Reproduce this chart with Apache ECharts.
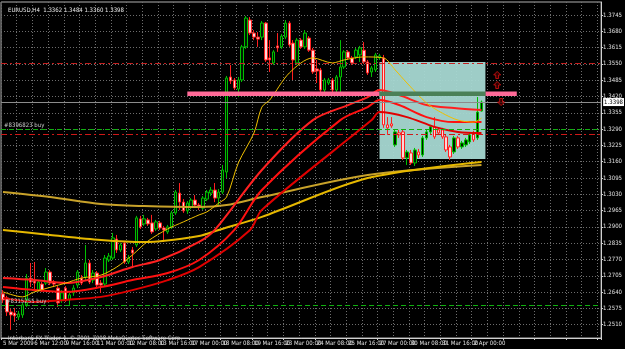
<!DOCTYPE html>
<html>
<head>
<meta charset="utf-8">
<script src="https://cdn.jsdelivr.net/npm/echarts@6/dist/echarts.min.js"></script>
<style>
  html, body { margin: 0; padding: 0; background: #000; }
  #chart { width: 625px; height: 349px; }
</style>
</head>
<body>
<div id="chart"></div>
<script>
// EURUSD H4, 5 Mar - 2 Apr 2009 (MT4 screenshot)
const timeLabels = [
  '5 Mar 2009', '6 Mar 12:00', '9 Mar 16:00', '11 Mar 00:00', '12 Mar 08:00',
  '13 Mar 16:00', '17 Mar 00:00', '18 Mar 08:00', '19 Mar 16:00', '23 Mar 00:00',
  '24 Mar 08:00', '25 Mar 16:00', '27 Mar 00:00', '30 Mar 08:00', '31 Mar 16:00',
  '2 Apr 00:00'
];
const barSlots = 153; // visible bar slots incl. right shift

const priceLabels = [
  1.2510, 1.2575, 1.2640, 1.2705, 1.2770, 1.2835, 1.2900, 1.2965, 1.3030, 1.3095,
  1.3160, 1.3225, 1.3290, 1.3355, 1.3420, 1.3485, 1.3550, 1.3615, 1.3680, 1.3745
];

// [open, close, low, high]
const candles = [
  [1.2633, 1.2609, 1.2597, 1.2648], [1.2617, 1.2561, 1.2545, 1.2625], [1.2561, 1.2549, 1.2489, 1.2573],
  [1.2557, 1.2545, 1.2521, 1.2577], [1.2541, 1.2553, 1.2529, 1.2565], [1.2549, 1.2589, 1.2537, 1.2597],
  [1.2589, 1.2696, 1.2581, 1.2712], [1.2696, 1.2680, 1.2660, 1.2756], [1.2684, 1.2676, 1.2648, 1.2760],
  [1.2648, 1.2680, 1.2641, 1.2688], [1.2672, 1.2648, 1.2641, 1.2680], [1.2676, 1.2720, 1.2668, 1.2736],
  [1.2720, 1.2676, 1.2668, 1.2728], [1.2680, 1.2672, 1.2660, 1.2688], [1.2656, 1.2597, 1.2581, 1.2664],
  [1.2609, 1.2637, 1.2597, 1.2648], [1.2656, 1.2609, 1.2601, 1.2664], [1.2609, 1.2629, 1.2589, 1.2637],
  [1.2637, 1.2656, 1.2625, 1.2668], [1.2668, 1.2720, 1.2656, 1.2728], [1.2696, 1.2676, 1.2668, 1.2708],
  [1.2700, 1.2756, 1.2688, 1.2828], [1.2756, 1.2680, 1.2672, 1.2768], [1.2688, 1.2716, 1.2676, 1.2728],
  [1.2716, 1.2668, 1.2660, 1.2724], [1.2676, 1.2668, 1.2637, 1.2688], [1.2672, 1.2776, 1.2664, 1.2788],
  [1.2768, 1.2784, 1.2760, 1.2796], [1.2776, 1.2856, 1.2768, 1.2876], [1.2852, 1.2808, 1.2796, 1.2868],
  [1.2808, 1.2828, 1.2800, 1.2836], [1.2836, 1.2760, 1.2752, 1.2844], [1.2760, 1.2776, 1.2752, 1.2788],
  [1.2808, 1.2796, 1.2736, 1.2820], [1.2828, 1.2936, 1.2820, 1.2944], [1.2932, 1.2900, 1.2892, 1.2944],
  [1.2912, 1.2932, 1.2904, 1.2948], [1.2928, 1.2912, 1.2904, 1.2936], [1.2916, 1.2880, 1.2872, 1.2948],
  [1.2892, 1.2920, 1.2884, 1.2928], [1.2916, 1.2896, 1.2888, 1.2924], [1.2896, 1.2888, 1.2840, 1.2904],
  [1.2880, 1.2900, 1.2872, 1.2908], [1.2900, 1.2956, 1.2892, 1.2964], [1.2956, 1.3039, 1.2948, 1.3047],
  [1.3035, 1.2999, 1.2968, 1.3075], [1.2999, 1.2964, 1.2956, 1.3011], [1.2964, 1.2995, 1.2952, 1.3003],
  [1.2979, 1.3007, 1.2971, 1.3015], [1.3007, 1.2987, 1.2979, 1.3027], [1.2987, 1.2979, 1.2968, 1.2995],
  [1.2975, 1.3015, 1.2968, 1.3023], [1.3011, 1.3039, 1.3003, 1.3047], [1.3035, 1.3047, 1.3023, 1.3059],
  [1.3047, 1.3015, 1.2999, 1.3075], [1.3015, 1.3039, 1.2987, 1.3051], [1.3039, 1.3127, 1.3031, 1.3147],
  [1.3119, 1.3494, 1.3095, 1.3502], [1.3498, 1.3482, 1.3470, 1.3546], [1.3486, 1.3454, 1.3446, 1.3494],
  [1.3450, 1.3486, 1.3418, 1.3498], [1.3486, 1.3618, 1.3478, 1.3626], [1.3618, 1.3733, 1.3610, 1.3741],
  [1.3725, 1.3673, 1.3665, 1.3737], [1.3673, 1.3657, 1.3645, 1.3685], [1.3657, 1.3649, 1.3618, 1.3677],
  [1.3657, 1.3713, 1.3645, 1.3721], [1.3713, 1.3566, 1.3558, 1.3717], [1.3574, 1.3566, 1.3518, 1.3645],
  [1.3554, 1.3598, 1.3546, 1.3605], [1.3622, 1.3614, 1.3598, 1.3673], [1.3618, 1.3661, 1.3610, 1.3669],
  [1.3657, 1.3713, 1.3649, 1.3725], [1.3713, 1.3626, 1.3618, 1.3721], [1.3633, 1.3566, 1.3486, 1.3645],
  [1.3554, 1.3645, 1.3546, 1.3653], [1.3645, 1.3618, 1.3610, 1.3653], [1.3618, 1.3673, 1.3610, 1.3685],
  [1.3653, 1.3605, 1.3598, 1.3661], [1.3605, 1.3518, 1.3510, 1.3614], [1.3530, 1.3522, 1.3474, 1.3566],
  [1.3526, 1.3446, 1.3438, 1.3534], [1.3446, 1.3486, 1.3438, 1.3494], [1.3474, 1.3486, 1.3466, 1.3494],
  [1.3486, 1.3446, 1.3438, 1.3494], [1.3446, 1.3498, 1.3434, 1.3506], [1.3498, 1.3538, 1.3434, 1.3645],
  [1.3538, 1.3598, 1.3530, 1.3605], [1.3598, 1.3574, 1.3566, 1.3605], [1.3574, 1.3554, 1.3546, 1.3582],
  [1.3578, 1.3605, 1.3570, 1.3614], [1.3586, 1.3614, 1.3558, 1.3622], [1.3605, 1.3558, 1.3550, 1.3637],
  [1.3558, 1.3514, 1.3506, 1.3566], [1.3518, 1.3534, 1.3498, 1.3542], [1.3526, 1.3586, 1.3518, 1.3594],
  [1.3574, 1.3582, 1.3566, 1.3590], [1.3574, 1.3307, 1.3295, 1.3586], [1.3307, 1.3295, 1.3267, 1.3338],
  [1.3311, 1.3303, 1.3295, 1.3338], [1.3227, 1.3279, 1.3219, 1.3287], [1.3275, 1.3267, 1.3255, 1.3287],
  [1.3279, 1.3175, 1.3167, 1.3287], [1.3175, 1.3199, 1.3147, 1.3207], [1.3195, 1.3155, 1.3147, 1.3207],
  [1.3155, 1.3207, 1.3143, 1.3215], [1.3199, 1.3187, 1.3175, 1.3211], [1.3187, 1.3255, 1.3179, 1.3263],
  [1.3255, 1.3279, 1.3247, 1.3287], [1.3279, 1.3299, 1.3271, 1.3307], [1.3299, 1.3259, 1.3251, 1.3338],
  [1.3287, 1.3275, 1.3267, 1.3295], [1.3287, 1.3259, 1.3251, 1.3295], [1.3259, 1.3207, 1.3199, 1.3267],
  [1.3219, 1.3179, 1.3167, 1.3227], [1.3199, 1.3255, 1.3191, 1.3263], [1.3255, 1.3219, 1.3211, 1.3263],
  [1.3219, 1.3235, 1.3211, 1.3243], [1.3227, 1.3247, 1.3219, 1.3255], [1.3239, 1.3267, 1.3231, 1.3275],
  [1.3275, 1.3247, 1.3239, 1.3283], [1.3255, 1.3358, 1.3247, 1.3418], [1.3362, 1.3398, 1.3360, 1.3404]
];

// moving averages: [bar, price]
const maFast = [
  [0, 1.2641], [5, 1.2621], [8, 1.2641], [16, 1.2676], [20, 1.2696], [25, 1.2708], [29, 1.2740],
  [33, 1.2788], [37, 1.2844], [42, 1.2892], [46, 1.2920], [50, 1.2948], [52, 1.2960], [55, 1.2995],
  [57, 1.3019], [60, 1.3155], [64, 1.3275], [66, 1.3378], [68, 1.3406], [73, 1.3514], [79, 1.3574],
  [84, 1.3554], [87, 1.3566], [92, 1.3578], [97, 1.3574], [100, 1.3526], [103, 1.3474], [108, 1.3394],
  [112, 1.3354], [116, 1.3326], [120, 1.3318], [122, 1.3334]
];
const maRedA = [
  [0, 1.2696], [8, 1.2688], [16, 1.2676], [25, 1.2700], [33, 1.2740], [40, 1.2768], [50, 1.2840],
  [54, 1.2888], [66, 1.3127], [79, 1.3326], [88, 1.3386], [93, 1.3418], [96, 1.3446], [101, 1.3426],
  [108, 1.3386], [115, 1.3374], [122, 1.3366]
];
const maRedB = [
  [0, 1.2660], [8, 1.2648], [16, 1.2641], [25, 1.2660], [33, 1.2688], [42, 1.2716], [50, 1.2768],
  [59, 1.2888], [66, 1.3047], [86, 1.3326], [93, 1.3378], [96, 1.3406], [101, 1.3386], [108, 1.3338],
  [115, 1.3318], [122, 1.3318]
];
const maRedC = [
  [0, 1.2617], [8, 1.2601], [16, 1.2609], [25, 1.2621], [33, 1.2648], [42, 1.2688], [50, 1.2740],
  [63, 1.2888], [66, 1.2968], [94, 1.3326], [96, 1.3358], [103, 1.3338], [110, 1.3299], [116, 1.3279],
  [122, 1.3275]
];
const maSlowA = [
  [0, 1.3039], [12, 1.3019], [25, 1.2991], [36, 1.2983], [50, 1.2979], [57, 1.2987], [66, 1.3019],
  [93, 1.3107], [122, 1.3147]
];
const maSlowB = [
  [0, 1.2888], [12, 1.2868], [25, 1.2848], [36, 1.2840], [50, 1.2864], [55, 1.2888], [66, 1.2940],
  [93, 1.3095], [122, 1.3159]
];

// chart objects
const bidPrice = 1.3398;
const tpLine = 1.3553;
const orderBuy1 = 1.3288;
const orderStop1 = 1.3270;
const orderBuy2 = 1.2588;
const levelPrice = 1.3431;
const levelBars = [47, 131];
const boxBars = [96, 123];
const boxPrices = [1.3558, 1.3171];
const upArrows = [[126, 1.3506], [126, 1.3466]];
const downArrows = [[127, 1.3398]];

const font = "'Liberation Sans Narrow', 'DejaVu Sans Condensed', 'Liberation Sans', sans-serif";
const categories = [];
for (let i = 0; i < barSlots; i++) categories.push(String(i));

const chart = echarts.init(document.getElementById('chart'), null, { renderer: 'canvas' });

const maLine = (data, color, width, z) => ({
  type: 'line', data, symbol: 'none', connectNulls: true, smooth: 0.3, z,
  lineStyle: { color, width }, silent: true, animation: false
});

const option = {
  backgroundColor: '#000000',
  animation: false,
  title: [
    {
      text: 'EURUSD,H4  1.3362 1.3484 1.3360 1.3398', left: 3, top: 2,
      textStyle: { color: '#e8e8e8', fontSize: 6, fontWeight: 'normal', fontFamily: font }
    },
    {
      text: 'Interbank FX Trader 4, \u00a9 2001-2008 MetaQuotes Software Corp.', left: 3, top: 330,
      textStyle: { color: '#d0d0d0', fontSize: 6, fontWeight: 'normal', fontFamily: font }
    }
  ],
  grid: { left: 1, right: 18, top: 2, bottom: 11, show: true, borderColor: '#b0b0b0', borderWidth: 1 },
  xAxis: {
    type: 'category', data: categories, boundaryGap: true,
    axisLine: { lineStyle: { color: '#d0d0d0' } },
    axisTick: { show: true, interval: 7, length: 2, lineStyle: { color: '#d0d0d0' } },
    axisLabel: {
      interval: 7, align: 'left', margin: 2, color: '#e0e0e0', fontSize: 6, fontFamily: font,
      formatter: (v, idx) => timeLabels[idx / 8] || ''
    },
    splitLine: { show: true, interval: 3, lineStyle: { color: '#6f6f6f', type: [1, 2], width: 1 } }
  },
  yAxis: {
    type: 'value', position: 'right', min: 1.2457, max: 1.3797, scale: true,
    axisLine: { show: true, lineStyle: { color: '#d0d0d0' } },
    axisTick: { show: true, length: 2, customValues: priceLabels, lineStyle: { color: '#d0d0d0' } },
    axisLabel: {
      customValues: priceLabels, margin: 2, color: '#e0e0e0', fontSize: 6, fontFamily: font,
      formatter: v => v.toFixed(4)
    },
    splitLine: { show: true, lineStyle: { color: '#6f6f6f', type: [1, 2], width: 1 } }
  },
  series: [
    {
      name: 'EURUSD', type: 'candlestick', data: candles, barWidth: 3, z: 3,
      itemStyle: {
        color: '#001a00', color0: '#ffd6d6',
        borderColor: '#00c000', borderColor0: '#ff2020', borderWidth: 1
      },
      markArea: {
        silent: true, z: 1,
        itemStyle: { color: '#a6d8d2', opacity: 0.95 },
        data: [[{ xAxis: boxBars[0], yAxis: boxPrices[0] }, { xAxis: boxBars[1], yAxis: boxPrices[1] }]]
      }
    },
    maLine(maSlowA, '#c8a22a', 2, 4),
    maLine(maSlowB, '#e6b800', 2, 4),
    maLine(maRedC, '#e00000', 2, 4),
    maLine(maRedB, '#ff1010', 2, 4),
    maLine(maRedA, '#ff2020', 2, 4),
    maLine(maFast, '#f0c000', 1, 5),
    {
      type: 'line', data: [], z: 6, silent: true,
      markLine: {
        symbol: ['none', 'none'], silent: true, animation: false, precision: 4,
        data: [
          { yAxis: tpLine, lineStyle: { color: '#c42020', type: [6, 3, 2, 3], width: 1 }, label: { show: false } },
          {
            yAxis: orderBuy1, lineStyle: { color: '#10b010', type: [5, 3], width: 1 },
            label: { show: true, position: 'insideStartTop', formatter: '#8396823 buy', color: '#c8c8c8', fontSize: 6, fontFamily: font, distance: [3, 1] }
          },
          { yAxis: orderStop1, lineStyle: { color: '#d01818', type: [6, 3, 2, 3], width: 1 }, label: { show: false } },
          {
            yAxis: orderBuy2, lineStyle: { color: '#10b010', type: [5, 3], width: 1 },
            label: { show: true, position: 'insideStartTop', formatter: '#8315255 buy', color: '#c8c8c8', fontSize: 6, fontFamily: font, distance: [5, 1] }
          },
          {
            yAxis: bidPrice, lineStyle: { color: '#8c8c8c', type: 'solid', width: 1 },
            label: {
              show: true, position: 'end', formatter: p => Number(p.value).toFixed(4), color: '#000',
              backgroundColor: '#ffffff', fontSize: 6, fontFamily: font, padding: [1, 1], distance: 2
            }
          }
        ]
      }
    },
    {
      type: 'line', z: 7, symbol: 'none', silent: true,
      lineStyle: { color: '#ff6a98', width: 4.5 },
      data: [[levelBars[0], levelPrice], [boxBars[0], levelPrice]]
    },
    {
      type: 'line', z: 7, symbol: 'none', silent: true,
      lineStyle: { color: '#ff6a98', width: 4.5 },
      data: [[boxBars[1], levelPrice], [levelBars[1], levelPrice]]
    },
    {
      type: 'line', z: 7, symbol: 'none', silent: true,
      lineStyle: { color: '#4b8058', width: 4.5 },
      data: [[boxBars[0], levelPrice], [boxBars[1], levelPrice]]
    },
    {
      type: 'scatter', z: 8, silent: true, data: upArrows,
      symbol: 'path://M5,0 L10,5 L7,5 L7,10 L3,10 L3,5 L0,5 Z', symbolSize: [7, 7],
      itemStyle: { color: '#3a0000', borderColor: '#e01010', borderWidth: 1 }
    },
    {
      type: 'scatter', z: 8, silent: true, data: downArrows,
      symbol: 'path://M5,10 L10,5 L7,5 L7,0 L3,0 L3,5 L0,5 Z', symbolSize: [7, 7],
      itemStyle: { color: '#3a0000', borderColor: '#e01010', borderWidth: 1 }
    }
  ]
};

chart.setOption(option);
</script>
</body>
</html>
